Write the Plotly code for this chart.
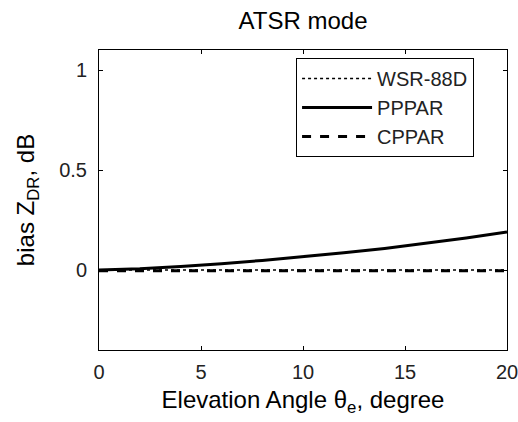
import plotly.graph_objects as go

elev = [0, 2, 4, 6, 8, 10, 12, 14, 16, 18, 20]
wsr88d = [0, 0, 0, 0, 0, 0, 0, 0, 0, 0, 0]
pppar = [0, 0.006, 0.018, 0.031, 0.048, 0.066, 0.086, 0.108, 0.133, 0.16, 0.19]
cppar = [-0.004, -0.004, -0.004, -0.004, -0.004, -0.004, -0.004, -0.004, -0.004, -0.004, -0.004]
names = ["WSR-88D", "PPPAR", "CPPAR"]

fig = go.Figure()
fig.add_trace(go.Scatter(x=elev, y=wsr88d, mode="lines", name=names[0],
                         line=dict(color="black", width=1.5, dash="dot")))
fig.add_trace(go.Scatter(x=elev, y=pppar, mode="lines", name=names[1],
                         line=dict(color="black", width=3)))
fig.add_trace(go.Scatter(x=elev, y=cppar, mode="lines", name=names[2],
                         line=dict(color="black", width=3, dash="dash")))

FONT = "Liberation Sans, Arial, sans-serif"
axis_common = dict(showgrid=False, zeroline=False, showline=True, linecolor="black",
                   linewidth=1, mirror="ticks", ticks="inside", ticklen=4,
                   tickcolor="black", automargin=False, ticklabeloverflow="allow",
                   tickfont=dict(family=FONT, size=20, color="#222"))

fig.update_layout(
    width=518, height=422,
    margin=dict(l=99, r=11, t=50, b=72),
    paper_bgcolor="white", plot_bgcolor="white",
    font=dict(family=FONT, color="black"),
    title=dict(text="ATSR mode", x=0.585, xanchor="center", y=0.952, yanchor="middle",
               font=dict(size=24, color="black")),
    xaxis=dict(range=[0, 20], tickvals=[0, 5, 10, 15, 20], ticklabelstandoff=4,
               title=dict(text="Elevation Angle θ<sub>e</sub>, degree", font=dict(size=24), standoff=9),
               **axis_common),
    yaxis=dict(range=[-0.4, 1.1], tickvals=[0, 0.5, 1], ticktext=["0", "0.5", "1"],
               ticklabelstandoff=7,
               title=dict(text="bias Z<sub>DR</sub>, dB", font=dict(size=24), standoff=17),
               **axis_common),
    legend=dict(x=0.483, y=0.973, xanchor="left", yanchor="top",
                bordercolor="black", borderwidth=1, bgcolor="white",
                itemwidth=70,
                font=dict(size=20, color="#222"), tracegroupgap=0),
    showlegend=True,
)

fig.write_html("out.html")
